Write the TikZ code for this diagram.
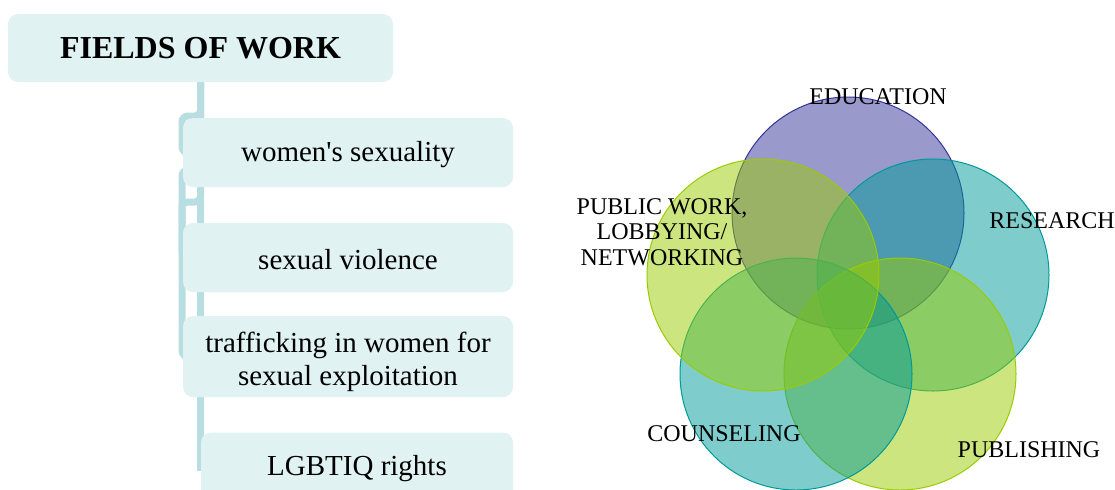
\documentclass[tikz,border=0pt]{standalone}
\usepackage{fontspec}
\setmainfont{Liberation Serif}
\usetikzlibrary{positioning,backgrounds}
\definecolor{vbox}{HTML}{E1F2F3}
\definecolor{vline}{HTML}{B9DEE2}
\definecolor{vpurple}{HTML}{333399}
\definecolor{vteal}{HTML}{009999}
\definecolor{vlime}{HTML}{99CC00}
\tikzset{
  head/.style={fill=vbox,rounded corners=5pt,align=center,font=\fontsize{16}{18}\selectfont\bfseries,minimum width=192.5pt,minimum height=34pt,inner sep=2pt},
  item/.style={fill=vbox,rounded corners=5pt,align=center,font=\fontsize{14.5}{16.5}\selectfont,minimum width=165pt,minimum height=34.5pt,inner sep=2pt,text height=12pt},
  conn/.style={draw=vline,line width=3.5pt},
  venn/.style={circle,draw=#1,fill=#1,fill opacity=0.5,line width=0.5pt,minimum size=116pt,inner sep=0pt},
  lbl/.style={align=center,font=\fontsize{12}{12.75}\selectfont,inner sep=0pt},
}
\begin{document}
\begin{tikzpicture}[x=0.5pt,y=-0.5pt]
  \useasboundingbox (0,0) rectangle (1115,489);
  % fields of work
  \node[head] (root) at (200.5,48) {FIELDS OF WORK};
  \node[item] (c1) at (348,152.5) {women\textquotesingle s sexuality};
  \node[item] (c2) at (348,257.5) {sexual violence};
  \node[item,minimum height=40.5pt,text height=32.5pt] (c3) at (348,356.5) {trafficking in women for\\sexual exploitation};
  \node[item,minimum width=156pt] (c4) at (357,467) {LGBTIQ rights};
  \begin{scope}[on background layer]
    \draw[conn,rounded corners=3pt] (root.south) |- (182,116) |- (c1.west);
    \draw[conn,rounded corners=3pt] (root.south) |- (182,170) |- (c2.west);
    \draw[conn,rounded corners=3pt] (root.south) |- (182,202) |- (c3.west);
    \draw[conn] (root.south) |- (c4.west);
  \end{scope}
  % venn
  \node[venn=vpurple] (edu) at (848,213) {};
  \node[venn=vteal] (res) at (933,275) {};
  \node[venn=vlime] (pub) at (900,374) {};
  \node[venn=vteal] (cou) at (796,374) {};
  \node[venn=vlime] (pwl) at (763,275) {};
  \node[lbl] (tedu) at (878,97) {EDUCATION};
  \node[lbl] (tres) at (1052,221) {RESEARCH};
  \node[lbl] (tpub) at (1029,450) {PUBLISHING};
  \node[lbl] (tcou) at (724,434) {COUNSELING};
  \node[lbl] (tpwl) at (662,232) {PUBLIC WORK,\\LOBBYING/\\NETWORKING};
\end{tikzpicture}
\end{document}
